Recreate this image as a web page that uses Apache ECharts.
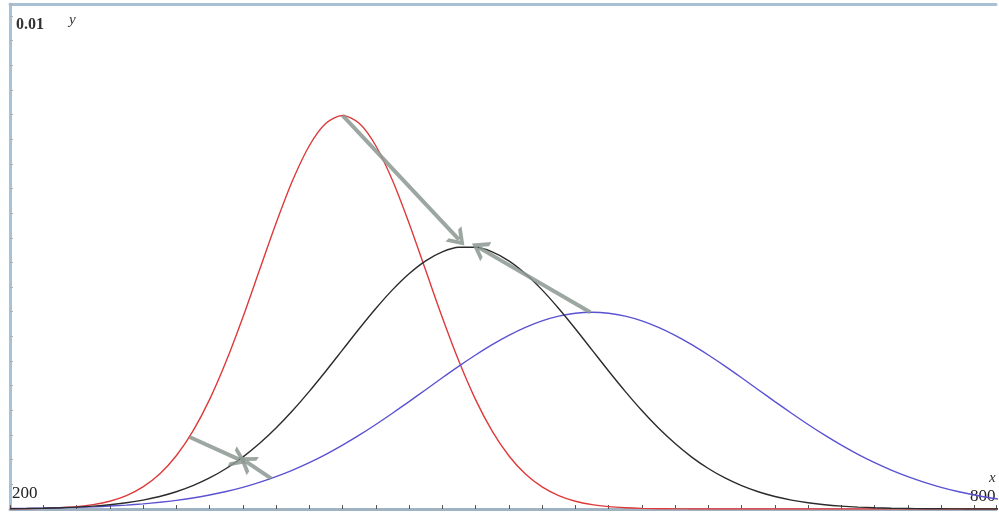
<!DOCTYPE html>
<html>
<head>
<meta charset="utf-8">
<script src="https://cdn.jsdelivr.net/npm/echarts@6/dist/echarts.min.js"></script>
<style>
  html, body { margin: 0; padding: 0; background: #ffffff; }
  #chart { width: 999px; height: 512px; }
</style>
</head>
<body>
<div id="chart"></div>
<script>
// Sample positions along x
const xs = [200, 210, 220, 230, 240, 250, 260, 270, 280, 290,
            300, 310, 320, 330, 340, 350, 360, 370, 380, 390,
            400, 410, 420, 430, 440, 450, 460, 470, 480, 490,
            500, 510, 520, 530, 540, 550, 560, 570, 580, 590,
            600, 610, 620, 630, 640, 650, 660, 670, 680, 690,
            700, 710, 720, 730, 740, 750, 760, 770, 780, 790, 800];

// Densities, in units of 1e-4
const redDensity = [0.03, 0.06, 0.12, 0.25, 0.48, 0.89, 1.58, 2.72, 4.48, 7.09,
                    10.80, 15.79, 22.18, 29.95, 38.84, 48.39, 57.94, 66.65, 73.66, 78.21,
                    79.79, 78.21, 73.66, 66.65, 57.94, 48.39, 38.84, 29.95, 22.18, 15.79,
                    10.80, 7.09, 4.48, 2.72, 1.58, 0.89, 0.48, 0.25, 0.12, 0.06,
                    0.03, 0.01, 0, 0, 0, 0, 0, 0, 0, 0,
                    0, 0, 0, 0, 0, 0, 0, 0, 0, 0, 0];

const blackDensity = [0.06, 0.10, 0.16, 0.26, 0.39, 0.59, 0.87, 1.27, 1.81, 2.54,
                      3.50, 4.73, 6.29, 8.21, 10.53, 13.27, 16.41, 19.96, 23.85, 27.98,
                      32.26, 36.54, 40.65, 44.43, 47.70, 50.32, 52.14, 53.07, 53.07, 52.14,
                      50.32, 47.70, 44.43, 40.65, 36.54, 32.26, 27.98, 23.85, 19.96, 16.41,
                      13.27, 10.53, 8.21, 6.29, 4.73, 3.50, 2.54, 1.81, 1.27, 0.87,
                      0.59, 0.39, 0.26, 0.16, 0.10, 0.06, 0.04, 0.02, 0.01, 0.01, 0];

const blueDensity = [0.09, 0.12, 0.17, 0.24, 0.33, 0.44, 0.60, 0.79, 1.04, 1.36,
                     1.75, 2.24, 2.83, 3.55, 4.40, 5.40, 6.56, 7.89, 9.40, 11.09,
                     12.95, 14.97, 17.14, 19.42, 21.78, 24.19, 26.61, 28.97, 31.22, 33.32,
                     35.20, 36.82, 38.14, 39.10, 39.69, 39.89, 39.69, 39.10, 38.14, 36.82,
                     35.20, 33.32, 31.22, 28.97, 26.61, 24.19, 21.78, 19.42, 17.14, 14.97,
                     12.95, 11.09, 9.40, 7.89, 6.56, 5.40, 4.40, 3.55, 2.83, 2.24, 1.75];

const UNIT = 1e-4;

// Arrows: [fromX, fromY, toX, toY] with y in units of 1e-4
const arrows = [
  [400, 79.8, 470, 54.6],
  [549, 39.9, 482, 53.0],
  [308, 14.6, 338, 10.0],
  [357, 6.2, 342, 9.6]
];

// Axis ticks and labels
const xTickStep = 20;
const yTickStep = 0.0005;
const xLabels = [200];
const yLabels = [0.01];

const X_MIN = 200;
const X_MAX = 793;

const pairs = (ys) => xs.map((x, i) => [x, ys[i] * UNIT]);

// open chevron arrow head (tip at the top)
const chevron = 'path://M0,13 L8,0 L16,13 L12.6,13 L8,5.5 L3.4,13 Z';

const chart = echarts.init(document.getElementById('chart'), null, { renderer: 'canvas' });

const serif = '"Liberation Serif", "DejaVu Serif", serif';

chart.setOption({
  animation: false,
  backgroundColor: '#ffffff',
  grid: { left: 10, right: 0, top: 4, bottom: 3 },
  xAxis: [
    {
      type: 'value',
      min: X_MIN,
      max: X_MAX,
      interval: xTickStep,
      splitLine: { show: false },
      axisLine: { show: true, onZero: false, lineStyle: { color: '#9fb3c3', width: 3 } },
      axisTick: { show: true, inside: true, length: 4, lineStyle: { color: '#555', width: 1 } },
      axisLabel: {
        show: true, inside: true, margin: 7, align: 'left', padding: [0, 0, 0, 2],
        color: '#222', fontFamily: serif, fontSize: 17,
        formatter: (v) => (xLabels.indexOf(v) >= 0 ? String(v) : '')
      }
    },
    {
      // frame line along the top edge
      type: 'value',
      position: 'top',
      min: X_MIN,
      max: X_MAX,
      splitLine: { show: false },
      axisLine: { show: true, onZero: false, lineStyle: { color: '#a9c0d4', width: 3 } },
      axisTick: { show: false },
      axisLabel: { show: false }
    }
  ],
  yAxis: {
    type: 'value',
    min: 0,
    max: 0.01024,
    interval: yTickStep,
    splitLine: { show: false },
    axisLine: { show: true, lineStyle: { color: '#a7c1d6', width: 3 } },
    axisTick: { show: true, inside: true, length: 3, lineStyle: { color: '#b0b0b0', width: 1 } },
    axisLabel: {
      show: true, inside: true, margin: 6, verticalAlign: 'top', padding: [1, 0, 0, 0],
      color: '#333', fontFamily: serif, fontSize: 16, fontWeight: 'bold',
      formatter: (v) => (yLabels.some((t) => Math.abs(t - v) < 1e-9) ? '0.01' : '')
    }
  },
  series: [
    {
      type: 'line', data: pairs(redDensity), smooth: 0.3, showSymbol: false,
      lineStyle: { color: '#dd3a3a', width: 1.4 }, silent: true
    },
    {
      type: 'line', data: pairs(blueDensity), smooth: 0.3, showSymbol: false,
      lineStyle: { color: '#5a52d2', width: 1.4 }, silent: true
    },
    {
      type: 'line', data: pairs(blackDensity), smooth: 0.3, showSymbol: false,
      lineStyle: { color: '#2b2b2b', width: 1.4 }, silent: true,
      markLine: {
        silent: true,
        symbol: ['none', chevron],
        symbolSize: [22, 16],
        label: { show: false },
        lineStyle: { color: 'rgba(140,152,146,0.85)', width: 4, type: 'solid' },
        data: arrows.map((a) => [
          { coord: [a[0], a[1] * UNIT] },
          { coord: [a[2], a[3] * UNIT] }
        ])
      }
    }
  ],
  graphic: [
    { type: 'text', left: 69, top: 13, style: { text: 'y', font: 'italic 15px ' + serif, fill: '#333' } },
    { type: 'text', left: 989, top: 471, style: { text: 'x', font: 'italic 15px ' + serif, fill: '#333' } },
    { type: 'text', left: 970, top: 488, style: { text: '800', font: '17px ' + serif, fill: '#222' } }
  ]
});
</script>
</body>
</html>
